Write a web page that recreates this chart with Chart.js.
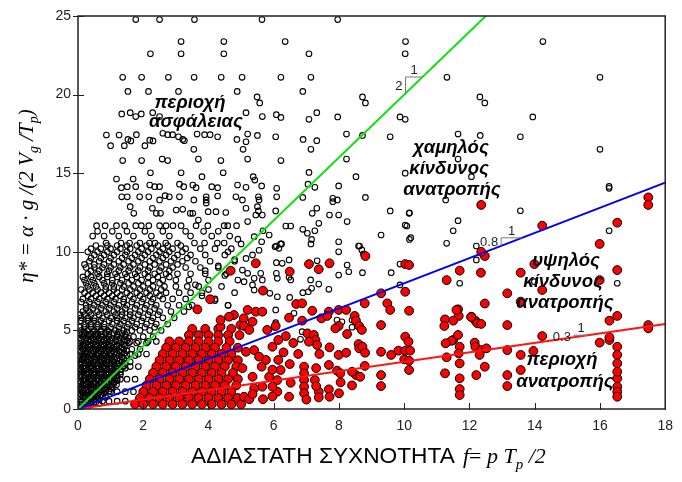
<!DOCTYPE html>
<html>
<head>
<meta charset="utf-8">
<script src="https://cdn.jsdelivr.net/npm/chart.js@4.4.1/dist/chart.umd.min.js"></script>
<style>
  html, body { margin: 0; padding: 0; background: #fff; }
</style>
</head>
<body>
<canvas id="chart" width="682" height="482"></canvas>
<script>
'use strict';

const X_TICKS = [0, 2, 4, 6, 8, 10, 12, 14, 16, 18];
const Y_TICKS = [0, 5, 10, 15, 20, 25];

// limit lines through the origin: eta* = slope * f
const SLOPES = [2, 0.8, 0.3];
const SLOPE_NAMES = ['2', '0.8', '0.3'];
const SLOPE_COLORS = ['#11e011', '#0000ee', '#ff1414'];

// open circles (no capsize) - dense part read row by row: [eta*, [f, f, ...]]
const safeRows = [
  [11.3, [0.6, 1.05, 1.5, 2.05, 2.6, 3.3, 3.85, 4.3]],
  [11.0, [0.45, 0.8, 1.25, 1.7, 2.25, 2.8, 3.45, 4.1, 4.65]],
  [10.4, [0.55, 0.9, 1.2, 1.5, 1.8, 2.1, 2.45, 2.75, 3.15]],
  [10.2, [0.4, 0.7, 1.0, 1.3, 1.6, 1.95, 2.25, 2.6, 2.9, 3.3, 3.75, 4.2, 4.7]],
  [10.0, [0.3, 0.6, 0.9, 1.2, 1.5, 1.85, 2.15, 2.5, 2.8, 3.2]],
  [9.8, [0.5, 0.8, 1.1, 1.45, 1.75, 2.05, 2.4, 2.7, 3.05, 3.45, 3.9, 4.5]],
  [9.6, [0.4, 0.7, 1.0, 1.35, 1.65, 1.95, 2.3, 2.6, 2.95, 3.35]],
  [9.4, [0.35, 0.65, 0.95, 1.25, 1.55, 1.85, 2.2, 2.5, 2.85, 3.2, 3.6, 4.05, 4.8]],
  [9.2, [0.2, 0.5, 0.8, 1.1, 1.4, 1.7, 2.05, 2.35, 2.7, 3.05]],
  [9.0, [0.25, 0.5, 0.75, 1.0, 1.3, 1.6, 1.9, 2.2, 2.55, 2.9, 3.3, 3.75, 4.3]],
  [8.8, [0.4, 0.65, 0.95, 1.25, 1.55, 1.85, 2.15, 2.5, 2.8]],
  [8.6, [0.3, 0.6, 0.9, 1.15, 1.45, 1.75, 2.05, 2.35, 2.7, 3.05, 3.45, 3.9, 4.55]],
  [8.4, [0.15, 0.4, 0.65, 0.9, 1.2, 1.5, 1.8, 2.15, 2.45, 2.8]],
  [8.2, [0.2, 0.45, 0.75, 1.05, 1.35, 1.65, 1.95, 2.3, 2.6, 3.0, 3.4, 4.0, 4.9]],
  [8.0, [0.25, 0.5, 0.8, 1.05, 1.3, 1.55, 1.85, 2.15, 2.5]],
  [7.8, [0.3, 0.55, 0.85, 1.1, 1.4, 1.7, 2.0, 2.3, 2.65, 3.0, 3.35, 3.7, 4.4]],
  [7.6, [0.1, 0.35, 0.6, 0.85, 1.1, 1.35, 1.6, 1.9, 2.2, 2.55]],
  [7.4, [0.2, 0.45, 0.7, 0.95, 1.2, 1.5, 1.8, 2.1, 2.4, 2.7, 3.1, 3.45, 3.8, 4.8]],
  [7.2, [0.3, 0.55, 0.8, 1.05, 1.3, 1.6, 1.9, 2.2, 2.5]],
  [7.0, [0.15, 0.4, 0.65, 0.9, 1.15, 1.4, 1.7, 2.0, 2.3, 2.6, 2.9, 3.3, 4.2]],
  [6.8, [0.1, 0.35, 0.6, 0.85, 1.1, 1.4, 1.65, 1.95, 2.25]],
  [6.6, [0.25, 0.5, 0.75, 1.0, 1.25, 1.5, 1.8, 2.1, 2.4, 2.75, 3.1, 3.5, 4.6]],
  [6.4, [0.25, 0.45, 0.7, 0.95, 1.2, 1.45, 1.75, 2.05, 2.35]],
  [6.2, [0.15, 0.35, 0.6, 0.85, 1.1, 1.35, 1.6, 1.9, 2.2, 2.5, 2.85, 3.25]],
  [6.0, [0.05, 0.2, 0.4, 0.65, 0.9, 1.15, 1.35, 1.6, 1.85, 2.15, 2.45]],
  [5.8, [0.1, 0.3, 0.5, 0.75, 1.0, 1.2, 1.45, 1.7, 2.0, 2.3, 2.6, 2.95]],
  [5.6, [0.1, 0.3, 0.5, 0.7, 0.95, 1.2, 1.4, 1.65, 1.95, 2.25]],
  [5.4, [0.2, 0.4, 0.6, 0.8, 1.05, 1.3, 1.55, 1.8, 2.1, 2.4, 2.75]],
  [5.2, [0.05, 0.2, 0.4, 0.6, 0.8, 1.0, 1.25, 1.5, 1.75, 2.05, 2.35]],
  [5.0, [0.1, 0.3, 0.5, 0.7, 0.9, 1.15, 1.4, 1.65, 1.9, 2.2, 2.55]],
  [4.9, [0.2, 0.45, 0.7, 0.95, 1.25, 1.5]],
  [4.8, [0.05, 0.2, 0.4, 0.6, 0.85, 1.1, 1.35]],
  [4.75, [0.12, 0.32, 0.52, 0.72, 0.95, 1.2, 1.45]],
  [4.6, [0.15, 0.35, 0.55, 0.75, 0.95, 1.2, 1.45, 1.7, 2.0, 2.3]],
  [4.5, [0.05, 0.25, 0.45, 0.65, 0.85, 1.05, 1.3, 1.55]],
  [4.4, [0.1, 0.3, 0.5, 0.7, 0.9, 1.15, 1.4]],
  [4.35, [0.2, 0.4, 0.6, 0.8, 1.0, 1.25, 1.5]],
  [4.3, [1.6, 1.85, 2.15, 2.4]],
  [4.2, [0.05, 0.25, 0.45, 0.65, 0.85, 1.05, 1.3, 1.55, 1.8, 2.1]],
  [4.1, [0.15, 0.35, 0.55, 0.75, 0.95, 1.2, 1.4]],
  [4.0, [0.05, 0.2, 0.4, 0.6, 0.8, 1.0, 1.2, 1.45]],
  [3.95, [0.12, 0.32, 0.52, 0.72, 0.92, 1.12, 1.35]],
  [3.8, [0.15, 0.35, 0.55, 0.75, 0.95, 1.15, 1.4, 1.65, 1.9]],
  [3.7, [0.05, 0.25, 0.45, 0.65, 0.85, 1.05, 1.25, 1.5]],
  [3.6, [0.1, 0.3, 0.5, 0.7, 0.9, 1.1, 1.3]],
  [3.55, [0.2, 0.4, 0.6, 0.8, 1.0, 1.2, 1.42]],
  [3.5, [1.6, 1.85, 2.1]],
  [3.4, [0.05, 0.2, 0.4, 0.6, 0.8, 1.0, 1.25, 1.5, 1.75]],
  [3.3, [0.15, 0.3, 0.5, 0.7, 0.9, 1.1, 1.35]],
  [3.2, [0.05, 0.2, 0.4, 0.6, 0.8, 1.0, 1.2, 1.4]],
  [3.15, [0.12, 0.32, 0.52, 0.72, 0.92, 1.12, 1.3]],
  [3.0, [0.1, 0.3, 0.5, 0.7, 0.9, 1.1, 1.35, 1.6]],
  [2.9, [0.05, 0.2, 0.4, 0.6, 0.8, 1.0, 1.2, 1.45]],
  [2.8, [0.1, 0.3, 0.5, 0.7, 0.9, 1.1, 1.3]],
  [2.75, [0.2, 0.4, 0.6, 0.8, 1.0, 1.2, 1.38]],
  [2.7, [1.4, 1.6, 1.85]],
  [2.6, [0.05, 0.2, 0.4, 0.6, 0.8, 1.0, 1.2, 1.45]],
  [2.5, [0.1, 0.3, 0.5, 0.7, 0.9, 1.1, 1.3]],
  [2.4, [0.05, 0.2, 0.4, 0.6, 0.8, 1.0, 1.2]],
  [2.35, [0.12, 0.32, 0.52, 0.72, 0.92, 1.12, 1.3]],
  [2.2, [0.1, 0.3, 0.5, 0.7, 0.9, 1.1, 1.3]],
  [2.1, [0.05, 0.2, 0.4, 0.6, 0.8, 1.0, 1.2]],
  [2.0, [0.1, 0.3, 0.5, 0.7, 0.9, 1.1]],
  [1.95, [0.2, 0.4, 0.6, 0.8, 1.0, 1.2]],
  [1.9, [1.3, 1.5, 1.75]],
  [1.8, [0.05, 0.2, 0.4, 0.6, 0.8, 1.0, 1.2]],
  [1.7, [0.1, 0.3, 0.5, 0.7, 0.9, 1.1]],
  [1.6, [0.05, 0.15, 0.3, 0.5, 0.7, 0.9, 1.1]],
  [1.55, [0.22, 0.4, 0.6, 0.8, 1.0, 1.18]],
  [1.4, [0.1, 0.3, 0.5, 0.7, 0.9, 1.05]],
  [1.3, [0.05, 0.2, 0.4, 0.6, 0.8, 1.0]],
  [1.2, [0.1, 0.25, 0.45, 0.65, 0.85]],
  [1.15, [0.15, 0.35, 0.55, 0.75, 0.95]],
  [1.1, [1.0, 1.2, 1.45, 1.7]],
  [1.0, [0.05, 0.2, 0.4, 0.6, 0.8]],
  [0.9, [0.1, 0.3, 0.5, 0.7]],
  [0.8, [0.05, 0.15, 0.3, 0.45, 0.6, 0.75]],
  [0.75, [0.22, 0.38, 0.55, 0.85]],
  [0.6, [0.1, 0.3, 0.5, 0.65]],
  [0.5, [0.75, 0.95, 1.2, 1.45]],
  [0.45, [0.1, 0.25, 0.4, 0.55]],
  [0.35, [0.12, 0.3, 0.48, 0.65]],
  [0.3, [0.05, 0.2, 0.4]],
  [0.15, [0.05, 0.15, 0.3]]
];

// open circles, scattered part: [f, eta*]
const safeScatter = [
  [1.77, 24.77], [2.5, 24.77], [3.57, 24.77], [5.64, 24.77], [7.96, 24.77],
  [3.16, 23.37], [4.47, 23.37], [6.35, 23.37], [10.04, 23.37], [14.25, 23.37],
  [2.22, 22.6], [3.16, 22.6], [4.47, 22.6], [7.08, 22.6], [10.03, 22.6],
  [1.37, 21.1], [1.95, 21.1], [2.77, 21.1], [3.56, 21.1], [4.39, 21.1], [5.03, 21.1], [6.22, 21.1], [7.14, 21.1], [11.31, 21.1], [16.0, 21.1],
  [1.53, 20.2], [2.16, 20.2], [3.08, 20.2], [4.88, 20.2], [6.89, 20.2],
  [5.49, 19.85], [5.57, 19.47], [8.72, 19.85], [8.81, 19.47], [12.32, 19.85], [12.47, 19.47],
  [7.32, 18.85], [7.08, 18.43], [7.96, 18.58], [9.87, 18.58], [10.03, 18.43], [13.94, 18.58],
  [1.34, 18.77], [1.6, 18.85], [1.77, 18.6], [1.94, 18.77], [2.29, 18.85], [2.5, 18.6],
  [5.15, 18.85], [5.65, 18.6], [6.08, 18.72], [6.22, 18.55],
  [0.87, 17.43], [1.0, 16.75], [1.26, 17.43], [1.42, 16.75], [1.53, 17.15], [1.62, 17.05], [1.79, 17.45], [2.05, 16.75],
  [2.2, 17.1], [2.3, 17.05], [2.6, 17.54], [2.75, 17.45], [2.9, 17.45], [3.08, 17.32], [3.21, 17.15], [3.26, 17.07],
  [3.65, 17.49], [3.88, 17.45], [4.05, 17.45], [4.28, 17.32], [4.87, 17.15],
  [5.2, 17.49], [5.5, 17.4], [6.06, 17.32], [6.9, 17.15], [7.32, 17.07], [8.23, 17.49], [8.72, 17.4], [9.57, 17.32],
  [11.65, 17.49], [12.33, 17.4], [13.56, 17.32], [5.15, 17.0],
  [3.55, 16.52], [5.06, 16.52], [7.14, 16.52], [16.0, 16.52],
  [1.37, 15.8], [1.95, 15.8], [2.58, 15.9], [2.75, 15.8], [3.69, 15.9], [4.38, 15.8], [5.2, 15.9], [6.22, 15.8], [8.23, 15.9], [11.65, 15.9],
  [2.22, 15.03], [3.16, 15.03], [4.45, 15.03], [7.08, 15.05], [10.03, 15.0],
  [1.18, 14.63], [1.69, 14.63], [3.8, 14.78], [5.37, 14.78], [5.42, 14.56], [8.52, 14.78], [12.06, 14.78],
  [1.33, 14.08], [1.51, 14.14], [1.77, 14.14], [2.2, 14.25], [2.35, 14.14], [2.5, 14.14], [3.11, 14.3], [3.24, 14.14],
  [3.52, 14.25], [3.62, 14.08], [4.1, 14.14], [4.28, 14.08], [4.89, 14.25], [5.15, 14.1], [5.63, 14.19], [6.09, 14.04],
  [7.05, 14.3], [7.26, 14.1], [7.99, 14.19], [16.28, 14.04], [16.28, 14.16],
  [1.34, 13.5], [1.51, 13.5], [1.89, 13.5], [2.17, 13.5], [2.5, 13.3], [2.67, 13.57], [2.8, 13.5], [3.11, 13.5],
  [3.55, 13.3], [3.93, 13.5], [3.93, 13.3], [3.93, 13.1], [4.28, 13.55], [4.84, 13.5], [5.04, 13.3], [5.53, 13.5],
  [5.55, 13.3], [6.09, 13.5], [6.89, 13.46], [7.81, 13.4], [7.95, 13.3], [7.81, 13.19], [8.81, 13.46], [11.27, 13.3],
  [1.6, 12.87], [1.71, 12.45], [2.28, 12.77], [2.4, 12.45], [2.53, 12.45], [3.01, 12.66], [3.21, 12.7], [3.44, 12.45],
  [3.52, 12.45], [3.69, 12.02], [3.99, 12.55], [4.23, 12.55], [4.53, 12.5], [5.15, 12.77], [5.5, 12.87], [5.53, 12.6],
  [6.06, 12.6], [7.18, 12.45], [7.32, 12.77], [7.71, 12.34], [7.99, 12.34], [9.57, 12.6], [10.15, 12.45], [5.45, 12.34],
  [5.65, 12.34], [13.56, 12.61], [10.16, 12.48],
  [0.57, 11.66], [0.83, 11.66], [1.18, 11.66], [1.43, 11.66], [1.77, 11.66], [1.94, 11.66], [2.17, 11.66], [2.5, 11.66],
  [2.7, 11.66], [2.91, 11.66], [3.16, 11.66], [3.62, 11.66], [3.98, 11.66], [4.48, 11.66], [4.59, 11.66], [4.86, 11.66],
  [5.2, 11.92], [6.37, 11.64], [6.52, 11.64], [7.38, 11.81], [8.25, 11.92], [10.08, 11.64], [11.65, 11.98], [10.03, 11.7],
  [5.67, 11.34], [5.86, 11.07], [6.89, 11.43], [7.03, 11.18], [7.26, 11.34], [7.16, 10.79], [7.14, 10.5], [7.99, 10.64],
  [9.29, 11.07], [10.16, 10.79], [8.63, 10.37], [5.4, 10.96], [5.63, 10.64], [6.08, 10.37], [6.21, 10.5], [5.0, 10.5],
  [11.5, 11.34], [16.28, 11.34],
  [0.86, 10.56], [1.32, 10.56], [1.58, 10.56], [1.9, 10.56], [2.19, 10.56], [2.36, 10.56], [2.69, 10.56], [3.05, 10.56],
  [3.57, 10.56], [3.88, 10.56], [4.27, 10.56], [4.48, 10.56],
  [6.24, 10.5], [6.16, 10.22], [6.04, 10.32], [7.99, 10.0], [8.6, 10.37], [8.7, 10.12], [8.75, 9.86], [10.2, 10.9],
  [5.15, 9.58], [5.35, 9.8], [5.55, 10.1], [6.08, 9.31], [6.26, 9.27], [6.47, 9.48], [7.33, 9.43], [8.25, 9.16],
  [7.99, 8.52], [8.3, 8.73], [8.72, 8.67], [9.6, 8.67], [9.87, 9.22], [5.04, 8.84], [5.2, 8.63], [5.09, 8.1],
  [5.4, 8.31], [5.35, 7.89], [5.4, 7.57], [5.6, 8.63], [5.65, 8.21], [6.08, 8.63], [6.11, 8.31], [6.47, 8.38],
  [6.52, 8.21], [7.13, 8.21], [7.38, 7.95], [5.88, 7.36], [6.11, 7.14], [6.49, 7.1], [6.89, 7.4], [7.06, 7.46],
  [7.16, 7.68], [7.69, 7.61], [9.87, 7.89], [6.06, 6.3], [6.62, 6.09], [6.87, 5.66], [6.06, 5.49], [6.01, 5.2],
  [6.87, 4.92], [6.82, 4.43], [8.4, 5.2], [8.4, 5.66], [7.94, 5.66], [8.09, 5.55],
  [11.3, 10.54], [12.21, 10.37], [12.21, 9.48], [11.7, 8.0], [16.53, 8.0], [13.99, 8.1],
  [3.6, 7.9], [4.0, 7.6], [3.8, 7.2], [4.2, 6.9], [4.6, 6.6], [3.4, 6.5], [4.5, 8.5], [3.9, 8.8], [4.3, 9.1], [4.8, 9.5], [4.6, 10.0], [4.9, 10.8]
];

// red filled circles (capsize) - dense part: [eta*, [f, f, ...]]
const capsizeRows = [
  [5.1, [3.5, 3.9, 4.3, 4.7]],
  [4.7, [3.4, 3.7, 4.0, 4.3, 4.6, 4.95]],
  [4.3, [2.8, 3.1, 3.4, 3.7, 4.0, 4.3, 4.65]],
  [3.9, [2.7, 3.0, 3.3, 3.6, 3.9, 4.2, 4.55, 4.9]],
  [3.5, [2.6, 2.9, 3.2, 3.5, 3.8, 4.1, 4.4, 4.7]],
  [3.1, [2.5, 2.8, 3.1, 3.4, 3.7, 4.0, 4.3, 4.6, 4.9]],
  [2.7, [2.4, 2.7, 3.0, 3.3, 3.6, 3.9, 4.2, 4.5, 4.85]],
  [2.3, [2.3, 2.6, 2.9, 3.2, 3.5, 3.8, 4.1, 4.4, 4.75]],
  [1.9, [2.2, 2.5, 2.8, 3.1, 3.4, 3.7, 4.0, 4.3, 4.6, 4.9]],
  [1.5, [2.1, 2.4, 2.7, 3.0, 3.3, 3.6, 3.9, 4.2, 4.5, 4.85]],
  [1.1, [2.0, 2.3, 2.6, 2.9, 3.2, 3.5, 3.8, 4.1, 4.4, 4.7]],
  [0.7, [1.9, 2.2, 2.5, 2.8, 3.1, 3.4, 3.7, 4.0, 4.3, 4.6, 4.9]],
  [0.3, [1.75, 2.0, 2.3, 2.6, 2.9, 3.2, 3.5, 3.8, 4.1, 4.4, 4.7, 5.0]]
];

// red filled circles, scattered part: [f, eta*]
const capsizeScatter = [
  [4.68, 8.8], [4.05, 6.98], [3.66, 6.34], [4.78, 5.98], [4.37, 5.24], [4.98, 5.34], [4.37, 5.66], [4.63, 5.87], [5.08, 5.77],
  [5.45, 9.27], [6.49, 8.74], [7.08, 9.22], [7.38, 8.89], [7.71, 9.27], [8.81, 9.73], [10.03, 9.22], [10.15, 9.16],
  [5.67, 7.53], [6.69, 6.68], [6.87, 6.72], [7.18, 6.25], [7.69, 6.19], [7.99, 6.3], [8.22, 6.3], [8.79, 6.72],
  [9.29, 7.36], [9.48, 6.72], [9.57, 6.3], [10.03, 7.46], [10.15, 6.25],
  [5.2, 6.3], [5.45, 6.19], [5.65, 6.19], [6.47, 5.81], [6.87, 5.62], [7.46, 5.77], [7.64, 5.92], [7.99, 5.28],
  [7.89, 5.13], [8.48, 5.92], [8.52, 5.62], [8.62, 5.28], [8.7, 5.03], [9.29, 5.34],
  [5.09, 5.28], [5.35, 5.55], [5.25, 5.03], [5.8, 5.03], [6.06, 5.28], [6.14, 4.39], [6.37, 4.64], [7.03, 4.81],
  [7.23, 4.71], [7.28, 4.39], [7.33, 4.07], [7.08, 4.28],
  [7.71, 3.92], [7.99, 3.44], [8.22, 3.58], [8.25, 4.77], [8.6, 4.13], [8.62, 3.86], [8.72, 3.96], [8.8, 3.58],
  [9.29, 3.64], [9.6, 3.44], [9.82, 3.71], [10.03, 3.71], [10.18, 3.71], [10.03, 4.6], [10.13, 4.28], [10.0, 3.16],
  [10.15, 3.07], [10.15, 2.48], [9.29, 2.16], [9.29, 1.46],
  [8.79, 2.74], [8.52, 2.16], [8.4, 2.37], [8.65, 2.05], [7.94, 2.44], [8.04, 2.27], [7.69, 1.25], [7.71, 0.78],
  [7.38, 1.1], [7.38, 0.74], [7.26, 1.84], [7.3, 1.46],
  [6.93, 2.69], [6.93, 2.27], [6.93, 1.84], [6.93, 1.42], [6.93, 1.0], [6.49, 2.86], [6.52, 1.67], [6.47, 0.78],
  [6.14, 3.12], [6.21, 2.48], [6.11, 1.84], [6.11, 1.1],
  [5.67, 0.62], [5.65, 1.42], [5.35, 2.05], [5.4, 1.31], [5.09, 0.78], [5.25, 0.62], [5.86, 2.05], [5.96, 1.42],
  [5.63, 2.69], [5.76, 3.12], [5.15, 3.64], [5.4, 3.75], [5.55, 3.33], [5.96, 3.96],
  [5.04, 2.6], [5.96, 2.5], [7.3, 2.6], [7.69, 2.8], [8.4, 1.5], [8.05, 1.7], [5.35, 0.95], [5.96, 0.8],
  [7.0, 0.6], [8.0, 1.0], [6.75, 3.5], [6.3, 3.6], [7.4, 3.5], [6.6, 4.2],
  [15.99, 10.5], [12.47, 9.73], [12.36, 10.0], [13.99, 9.22], [11.7, 8.8], [12.35, 8.67], [13.57, 8.67], [16.53, 8.84],
  [11.3, 8.2], [15.99, 8.2], [14.23, 7.57], [13.16, 7.36], [12.47, 6.71], [13.57, 6.83], [11.65, 6.34], [11.67, 5.92],
  [12.06, 5.87], [12.18, 5.62], [12.24, 5.45], [12.36, 5.41], [11.25, 5.7], [11.23, 5.28], [11.5, 5.62], [13.16, 5.34],
  [16.29, 5.62], [16.53, 5.92], [17.48, 5.34], [17.48, 5.13], [14.23, 4.64], [15.99, 4.22], [16.29, 4.39], [16.29, 4.56],
  [11.5, 4.39], [11.45, 4.34], [11.65, 4.71], [11.27, 4.18], [11.7, 3.96], [11.67, 3.54], [12.16, 4.22], [12.18, 3.96],
  [12.36, 3.75], [12.52, 3.86], [12.31, 3.44], [13.16, 3.75], [16.53, 3.96], [13.57, 3.44], [13.96, 3.69], [11.3, 3.29],
  [16.53, 3.44], [16.53, 2.9], [11.7, 2.9], [12.47, 2.69], [13.57, 2.48], [11.25, 2.27], [12.21, 2.16], [13.16, 2.16],
  [11.7, 1.95], [16.53, 1.95], [13.16, 1.46], [11.7, 1.27], [11.7, 0.89], [16.53, 1.42], [16.53, 1.1], [16.53, 0.78],
  [16.53, 2.37], [11.6, 6.3], [12.05, 5.85],
  [12.36, 12.98], [14.23, 11.66], [16.53, 11.85], [17.48, 13.46], [17.48, 12.98]
];

// region captions (text only)
const REGION_TEXT = [
  ['περιοχή', 190, 103], ['ασφάλειας', 196, 122],
  ['χαμηλός', 451, 148], ['κίνδυνος', 449, 169], ['ανατροπής', 452, 190],
  ['υψηλός', 566, 261], ['κίνδυνος', 563, 282], ['ανατροπής', 565, 303],
  ['περιοχή', 562, 360], ['ανατροπής', 565, 382]
];

function rowsToPoints(rows) {
  return rows.flatMap(([y, xs]) => xs.map(x => ({ x, y })));
}
function pairsToPoints(pairs) {
  return pairs.map(([x, y]) => ({ x, y }));
}

const SERIF = '"Liberation Serif", "DejaVu Serif", serif';
const SANS = '"Liberation Sans", Arial, sans-serif';

// draws a list of text runs one after another, returns total width
function drawRuns(ctx, runs, x, y, measureOnly) {
  let cx = x;
  runs.forEach(r => {
    ctx.font = r.font;
    if (!measureOnly) ctx.fillText(r.t, cx, y + (r.dy || 0));
    cx += ctx.measureText(r.t).width;
  });
  return cx - x;
}

const decorPlugin = {
  id: 'decor',
  afterDraw(chart) {
    const { ctx, chartArea: a, scales: { x, y } } = chart;
    ctx.save();

    // frame + ticks crossing the axes
    ctx.strokeStyle = '#222';
    ctx.lineWidth = 1.5;
    ctx.strokeRect(a.left, a.top, a.right - a.left, a.bottom - a.top);
    ctx.lineWidth = 1;
    ctx.beginPath();
    X_TICKS.forEach(v => {
      const px = Math.round(x.getPixelForValue(v)) + 0.5;
      ctx.moveTo(px, a.bottom - 6);
      ctx.lineTo(px, a.bottom + 1);
    });
    Y_TICKS.forEach(v => {
      const py = Math.round(y.getPixelForValue(v)) + 0.5;
      ctx.moveTo(a.left - 5, py);
      ctx.lineTo(a.left + 6, py);
    });
    ctx.stroke();

    // slope triangles
    const tri = [[10.04, 0.52], [12.97, 0.64], [15.2, 0.45]];
    ctx.strokeStyle = '#777';
    ctx.fillStyle = '#222';
    ctx.font = '13px ' + SANS;
    SLOPES.forEach((s, i) => {
      const [x1, run] = tri[i];
      const x2 = x1 + run;
      const pxa = x.getPixelForValue(x1);
      const pxb = x.getPixelForValue(x2);
      const pyTop = y.getPixelForValue(s * x2);
      const pyBot = y.getPixelForValue(s * x1);
      ctx.beginPath();
      ctx.moveTo(pxa, pyBot);
      ctx.lineTo(pxa, pyTop);
      ctx.lineTo(pxb, pyTop);
      ctx.stroke();
      ctx.textAlign = 'center';
      ctx.textBaseline = 'alphabetic';
      ctx.fillText('1', (pxa + pxb) / 2, pyTop - 3);
      ctx.textAlign = 'right';
      ctx.textBaseline = 'middle';
      ctx.fillText(SLOPE_NAMES[i], pxa - 3, (pyTop + pyBot) / 2 + 1);
    });

    // region captions
    ctx.fillStyle = '#000';
    ctx.font = 'italic bold 18.5px ' + SANS;
    ctx.textAlign = 'center';
    ctx.textBaseline = 'middle';
    REGION_TEXT.forEach(([t, px, py]) => ctx.fillText(t, px, py));

    // x axis title
    ctx.textAlign = 'left';
    ctx.textBaseline = 'alphabetic';
    ctx.fillStyle = '#000';
    const it = 'italic 21px ' + SERIF;
    const itSub = 'italic 14px ' + SERIF;
    const itX = 'italic 22px ' + SERIF;
    ctx.font = '22.7px ' + SANS;
    ctx.fillText('ΑΔΙΑΣΤΑΤΗ ΣΥΧΝΟΤΗΤΑ', 191, 463);
    drawRuns(ctx, [
      { t: 'f', font: itX }, { t: '= ', font: '22px ' + SERIF }, { t: 'p T', font: itX },
      { t: 'p', font: 'italic 15px ' + SERIF, dy: 6 }, { t: ' /2', font: itX }
    ], 463, 463);

    // y axis title (rotated)
    const yRuns = [
      { t: 'η* = α · g /(2 V', font: it }, { t: 'g', font: itSub, dy: 5 },
      { t: ' /T', font: it }, { t: 'p', font: itSub, dy: 5 }, { t: ')', font: it }
    ];
    ctx.translate(33, 196);
    ctx.rotate(-Math.PI / 2);
    const w = drawRuns(ctx, yRuns, 0, 0, true);
    drawRuns(ctx, yRuns, -w / 2, 0);

    ctx.restore();
  }
};

const lineSets = SLOPES.map((s, i) => ({
  type: 'line',
  data: [{ x: 0, y: 0 }, { x: 18, y: s * 18 }],
  borderColor: SLOPE_COLORS[i],
  borderWidth: 2,
  pointRadius: 0,
  clip: 0,
  order: 0
}));

new Chart(document.getElementById('chart'), {
  type: 'scatter',
  data: {
    datasets: [
      ...lineSets,
      {
        data: rowsToPoints(capsizeRows).concat(pairsToPoints(capsizeScatter)),
        pointRadius: 4.4,
        pointBackgroundColor: '#ff0000',
        pointBorderColor: '#000',
        pointBorderWidth: 1,
        order: 1
      },
      {
        data: rowsToPoints(safeRows).concat(pairsToPoints(safeScatter)),
        pointRadius: 2.8,
        pointBackgroundColor: 'rgba(0,0,0,0)',
        pointBorderColor: '#000',
        pointBorderWidth: 1.1,
        order: 2
      }
    ]
  },
  options: {
    responsive: false,
    animation: false,
    devicePixelRatio: 1,
    layout: { padding: { top: 16, right: 14, left: 0, bottom: 0 } },
    plugins: { legend: { display: false }, tooltip: { enabled: false } },
    scales: {
      x: {
        type: 'linear',
        min: 0,
        max: 18,
        afterBuildTicks: s => { s.ticks = X_TICKS.map(v => ({ value: v })); },
        afterFit: s => { s.height = 73; },
        ticks: { font: { family: SANS, size: 14 }, color: '#222', padding: 9, maxRotation: 0 },
        grid: { display: false, drawTicks: false },
        border: { display: false }
      },
      y: {
        type: 'linear',
        min: 0,
        max: 25,
        afterBuildTicks: s => { s.ticks = Y_TICKS.map(v => ({ value: v })); },
        afterFit: s => { s.width = 78; },
        ticks: { font: { family: SANS, size: 14 }, color: '#222', padding: 7 },
        grid: { display: false, drawTicks: false },
        border: { display: false }
      }
    }
  },
  plugins: [decorPlugin]
});
</script>
</body>
</html>
